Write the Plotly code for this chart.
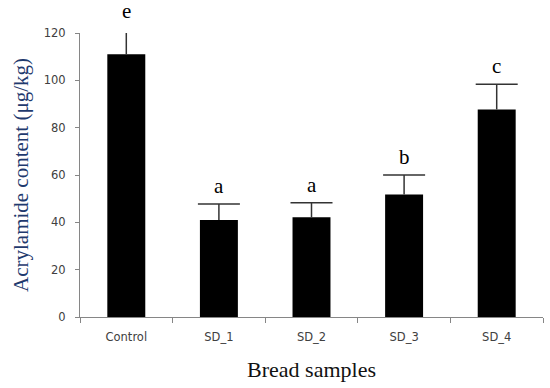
import plotly.graph_objects as go

categories = ["Control", "SD_1", "SD_2", "SD_3", "SD_4"]
acrylamide = [111.0, 41.0, 42.2, 51.8, 87.7]
sd_upper = [10.5, 6.7, 6.1, 8.2, 10.6]
letters = ["e", "a", "a", "b", "c"]
y_ticks = [0, 20, 40, 60, 80, 100, 120]
y_max = 120

err_color = "#333333"
tops = [v + e for v, e in zip(acrylamide, sd_upper)]

fig = go.Figure()
fig.add_trace(go.Bar(
    x=categories, y=acrylamide,
    marker=dict(color="black", line=dict(color="black", width=0)),
    error_y=dict(type="data", array=sd_upper, arrayminus=[0]*len(sd_upper), symmetric=False,
                 color=err_color, thickness=1.5, width=0),
    cliponaxis=False,
    showlegend=False,
    hoverinfo="skip",
))
fig.add_trace(go.Scatter(
    x=categories, y=tops, mode="markers",
    marker=dict(symbol="line-ew", size=30, line=dict(color=err_color, width=1.5)),
    cliponaxis=False, showlegend=False, hoverinfo="skip",
))

for c, t, l in zip(categories, tops, letters):
    fig.add_annotation(x=c, xref="x", y=t / y_max, yref="paper", text=l, showarrow=False,
                       yanchor="bottom", yshift=4,
                       font=dict(family="Liberation Serif", size=21, color="black"))

fig.update_layout(
    width=550, height=388,
    margin=dict(l=80, r=7, t=33, b=71),
    plot_bgcolor="white", paper_bgcolor="white",
    bargap=0.59,
    xaxis=dict(showline=True, linecolor="#868686", linewidth=1, ticks="outside", tickson="boundaries",
               ticklen=5, tickcolor="#868686", showgrid=False, ticklabelstandoff=9,
               tickfont=dict(family="DejaVu Sans", size=11.5, color="#404040"),
               title=dict(text="Bread samples", standoff=18,
                          font=dict(family="Liberation Serif", size=22, color="#111111"))),
    yaxis=dict(range=[0, y_max], tickvals=y_ticks, showline=True, linecolor="#868686", linewidth=1,
               ticks="outside", ticklen=4, tickcolor="#868686", showgrid=False, zeroline=False,
               ticklabelstandoff=7,
               tickfont=dict(family="DejaVu Sans", size=11.5, color="#404040"),
               title=dict(text="Acrylamide content (μg/kg)", standoff=9,
                          font=dict(family="Liberation Serif", size=21, color="#1f3a6e"))),
)

fig.write_html("out.html", config={"displayModeBar": False},
               post_script="document.body.style.margin='0';")
